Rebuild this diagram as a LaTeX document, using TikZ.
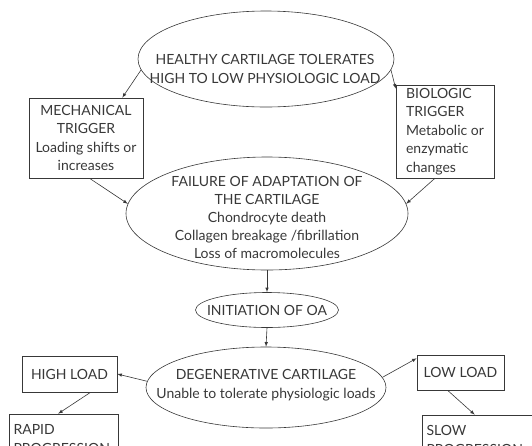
\documentclass[tikz,border=0pt]{standalone}
\usepackage{fontspec}
\setmainfont{Lato}
\usetikzlibrary{shapes.geometric}
\definecolor{ink}{gray}{0.22}
\tikzstyle{oval}=[shape=ellipse, draw=ink, semithick, inner sep=0]
\tikzstyle{box}=[shape=rectangle, draw=ink, semithick, inner sep=3pt]
\tikzstyle{txt}=[inner sep=0, align=center]
\tikzstyle{arr}=[draw=ink, semithick, -latex]

\begin{document}
\begin{tikzpicture}[x=1pt, y=-1pt, font=\fontsize{14}{18.5}\selectfont, text=ink]
\useasboundingbox (0,0) rectangle (532,445);
\draw (266,59) node[oval, minimum width=256pt, minimum height=96pt] (healthy) {};
\draw (265,69) node[txt] (healthytext) {HEALTHY CARTILAGE TOLERATES\\HIGH TO LOW PHYSIOLOGIC LOAD};
%
\draw (86,138) node[box, minimum width=114pt, minimum height=80pt, align=center] (mech) {MECHANICAL\\TRIGGER\\Loading shifts or\\increases};
\draw (445,131.5) node[box, minimum width=98pt, minimum height=91pt, align=left] (bio) {BIOLOGIC\\TRIGGER\\Metabolic or\\enzymatic\\changes};
%
\draw (267,213.5) node[oval, minimum width=282pt, minimum height=113pt] (failure) {};
\draw (267,217) node[txt, font=\fontsize{14}{18}\selectfont] (failuretext) {FAILURE OF ADAPTATION OF\\THE CARTILAGE\\Chondrocyte death\\Collagen breakage /fibrillation\\Loss of macromolecules};
\draw (267,310) node[oval, minimum width=143pt, minimum height=35pt] (init) {};
\draw (267,310) node[txt] (inittext) {INITIATION OF OA};
\draw (266,387.5) node[oval, minimum width=240pt, minimum height=81pt] (degen) {};
\draw (266,385) node[txt] (degentext) {DEGENERATIVE CARTILAGE\\Unable to tolerate physiologic loads};
%
\draw (69.5,374) node[box, minimum width=95pt, minimum height=36pt] (high) {HIGH LOAD};
\draw (460.5,372.5) node[box, minimum width=87pt, minimum height=35pt] (low) {LOW LOAD};
\draw (63.5,439) node[box, minimum width=109pt, minimum height=50pt, align=left, text width=100pt] (rapid) {RAPID\\PROGRESSION\\};
\draw (482,440) node[box, minimum width=120pt, minimum height=50pt, align=left, text width=111pt] (slow) {SLOW\\PROGRESSION\\};
%
\draw[arr] (healthy.185)--(mech.48);
\draw[arr] (healthy.-5)--(bio.139);
\draw[arr] (mech.-85)--(failure.176);
\draw[arr] (bio.258)--(failure.4);
\draw[arr] (failure.south)--(init.north);
\draw[arr] (init.south)--(degen.north);
\draw[arr] (degen.177)--(high.east);
\draw[arr] (degen.5)--(low.162);
\draw[arr] (high.-41)--(rapid.102);
\draw[arr] (low.234)--(slow.106);
\end{tikzpicture}
\end{document}
